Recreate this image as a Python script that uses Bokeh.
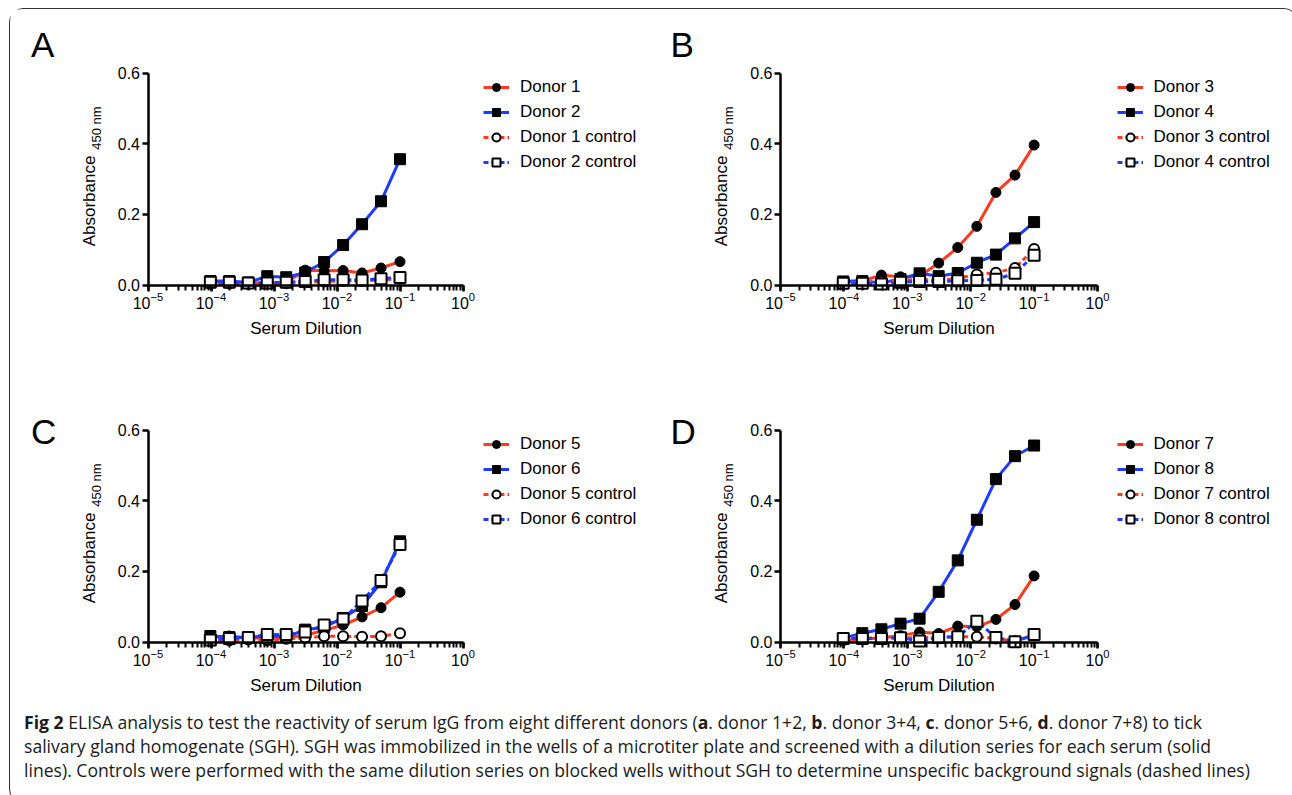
from bokeh.plotting import figure
from bokeh.models import Legend, LegendItem, Label, FixedTicker, LogTicker, NumeralTickFormatter, Div
from bokeh.layouts import column, row
from bokeh.embed import file_html
from bokeh.resources import INLINE

# Serum dilution series (two-fold, 1:10 down to 1:10240)
dilution = [9.765625e-5, 1.953125e-4, 3.90625e-4, 7.8125e-4, 1.5625e-3, 3.125e-3,
            6.25e-3, 1.25e-2, 2.5e-2, 5e-2, 1e-1]

# Panel A
donor_1 = [0.010, 0.008, 0.007, 0.005, 0.007, 0.042, 0.040, 0.041, 0.034, 0.048, 0.066]
donor_2 = [0.011, 0.011, 0.007, 0.025, 0.022, 0.035, 0.065, 0.113, 0.172, 0.237, 0.356]
donor_1_control = [0.004, 0.004, 0.003, 0.004, 0.005, 0.008, 0.010, 0.011, 0.012, 0.014, 0.018]
donor_2_control = [0.008, 0.008, 0.006, 0.006, 0.008, 0.010, 0.015, 0.015, 0.014, 0.018, 0.021]

# Panel B
donor_3 = [0.010, 0.012, 0.028, 0.023, 0.025, 0.062, 0.106, 0.166, 0.262, 0.311, 0.396]
donor_4 = [0.010, 0.011, 0.006, 0.017, 0.033, 0.025, 0.034, 0.063, 0.086, 0.132, 0.178]
donor_3_control = [0.006, 0.008, 0.010, 0.013, 0.016, 0.013, 0.019, 0.030, 0.035, 0.048, 0.102]
donor_4_control = [0.005, 0.005, 0.003, 0.008, 0.010, 0.010, 0.012, 0.013, 0.016, 0.033, 0.084]

# Panel C
donor_5 = [0.012, 0.017, 0.011, 0.012, 0.012, 0.019, 0.033, 0.048, 0.071, 0.097, 0.141]
donor_6 = [0.017, 0.014, 0.012, 0.019, 0.014, 0.035, 0.042, 0.068, 0.102, 0.169, 0.285]
donor_5_control = [0.003, 0.005, 0.007, 0.005, 0.009, 0.012, 0.016, 0.016, 0.015, 0.016, 0.025]
donor_6_control = [0.006, 0.010, 0.013, 0.021, 0.021, 0.028, 0.048, 0.065, 0.116, 0.174, 0.276]

# Panel D
donor_7 = [0.004, 0.008, 0.012, 0.018, 0.028, 0.024, 0.045, 0.043, 0.064, 0.106, 0.187]
donor_8 = [0.011, 0.025, 0.036, 0.052, 0.066, 0.142, 0.231, 0.346, 0.461, 0.526, 0.556]
donor_7_control = [0.010, 0.011, 0.011, 0.012, 0.012, 0.013, 0.015, 0.015, 0.010, 0.002, 0.021]
donor_8_control = [0.010, 0.010, 0.010, 0.012, 0.003, 0.013, 0.015, 0.059, 0.013, 0.001, 0.021]

y_ticks = [0.0, 0.2, 0.4, 0.6]
x_bounds = (1e-5, 1.0)
y_bounds = (0.0, 0.6)

RED = "#FF3B1F"
BLUE = "#1E3CFF"
FONT = "Liberation Sans"

STYLES = [
    (RED, "solid", "circle", "black"),
    (BLUE, "solid", "square", "black"),
    (RED, "5 3", "circle", "white"),
    (BLUE, "5 3", "square", "white"),
]


def make_panel(letter, names, series, width, height, axis_x, decade_px, y0_px, letter_dx, letter_dy, legend_dx):
    # layout: axis_x = pixel of the y axis from the figure's left, y0_px = pixel of y=0 from its bottom
    unit_px = 212.0 / 0.6
    lx0 = -5 - axis_x / decade_px
    lx1 = -5 + (width - axis_x) / decade_px
    p = figure(width=width, height=height, x_axis_type="log",
               x_range=(10 ** lx0, 10 ** lx1),
               y_range=(-y0_px / unit_px, (height - y0_px) / unit_px),
               output_backend="svg", toolbar_location=None,
               min_border_left=0, min_border_right=0, min_border_top=0, min_border_bottom=0)
    p.outline_line_color = None
    p.grid.visible = False
    p.background_fill_color = "white"
    p.border_fill_color = "white"

    items = []
    for name, ys, (col, dash, marker, fill) in zip(names, series, STYLES):
        ln = p.line(dilution, ys, line_color=col, line_width=3, line_dash=dash)
        sc = p.scatter(dilution, ys, marker=marker, size=10 if marker == "circle" else 11,
                       fill_color=fill, line_color="black", line_width=2 if fill == "white" else 1)
        items.append(LegendItem(label=name, renderers=[ln, sc]))

    legend = Legend(items=items, location=(axis_x + legend_dx, y0_px + 112.5), padding=0, margin=0,
                    border_line_color=None, background_fill_alpha=0,
                    glyph_width=26, glyph_height=20, label_height=20, spacing=5,
                    label_standoff=11, label_text_font=FONT, label_text_font_size="17px",
                    label_text_color="black")
    p.add_layout(legend)

    xa = p.xaxis[0]
    xa.fixed_location = 0
    xa.bounds = x_bounds
    xa.ticker = LogTicker(num_minor_ticks=10)
    xa.axis_label = "Serum Dilution"
    xa.axis_label_text_font = FONT
    xa.axis_label_text_font_size = "17px"
    xa.axis_label_text_font_style = "normal"
    xa.axis_label_text_color = "black"
    xa.axis_label_standoff = 6
    xa.major_label_standoff = 1

    ya = p.yaxis[0]
    ya.fixed_location = 1e-5
    ya.bounds = y_bounds
    ya.ticker = FixedTicker(ticks=y_ticks, minor_ticks=[])
    ya.formatter = NumeralTickFormatter(format="0.0")
    ya.major_label_standoff = 2

    for ax in (xa, ya):
        ax.axis_line_width = 2.5
        ax.axis_line_color = "black"
        ax.major_tick_line_width = 2.5
        ax.major_tick_line_color = "black"
        ax.major_tick_in = 0
        ax.major_tick_out = 6
        ax.minor_tick_line_width = 2
        ax.minor_tick_line_color = "black"
        ax.minor_tick_in = 0
        ax.minor_tick_out = 5
        ax.major_label_text_font = FONT
        ax.major_label_text_font_size = "16px"
        ax.major_label_text_color = "black"

    p.add_layout(Label(x=axis_x - 59, y=y0_px + 84, x_units="screen", y_units="screen", text="Absorbance",
                       angle=90, angle_units="deg", text_align="center", text_baseline="middle",
                       text_font=FONT, text_font_size="17px", text_color="black"))
    p.add_layout(Label(x=axis_x - 52, y=y0_px + 157, x_units="screen", y_units="screen", text="450 nm",
                       angle=90, angle_units="deg", text_align="center", text_baseline="middle",
                       text_font=FONT, text_font_size="13px", text_color="black"))
    p.add_layout(Label(x=axis_x + letter_dx, y=y0_px + letter_dy, x_units="screen", y_units="screen",
                       text=letter, text_align="left", text_baseline="middle",
                       text_font=FONT, text_font_size="35px", text_color="black"))
    return p


# page layout (content origin at about x=10.5, y=9.5)
W_LEFT, W_RIGHT = 638, 639
H_TOP, H_BOTTOM, H_CAPTION = 355, 336, 92

pA = make_panel("A", ["Donor 1", "Donor 2", "Donor 1 control", "Donor 2 control"],
                [donor_1, donor_2, donor_1_control, donor_2_control],
                W_LEFT, H_TOP, 137.5, 63.0, 79.5, -117, 241, 335.5)
pB = make_panel("B", ["Donor 3", "Donor 4", "Donor 3 control", "Donor 4 control"],
                [donor_3, donor_4, donor_3_control, donor_4_control],
                W_RIGHT, H_TOP, 132.0, 63.4, 79.5, -110, 241, 336.5)
pC = make_panel("C", ["Donor 5", "Donor 6", "Donor 5 control", "Donor 6 control"],
                [donor_5, donor_6, donor_5_control, donor_6_control],
                W_LEFT, H_BOTTOM, 137.5, 63.0, 58.5, -117, 211, 335.5)
pD = make_panel("D", ["Donor 7", "Donor 8", "Donor 7 control", "Donor 8 control"],
                [donor_7, donor_8, donor_7_control, donor_8_control],
                W_RIGHT, H_BOTTOM, 132.0, 63.4, 58.5, -110, 211, 336.5)

caption_html = (
    "<div style=\"font-family:'Open Sans'; font-size:17.6px; line-height:24px; color:#1a1a1a; "
    "white-space:nowrap; padding:5px 0 0 9px;\">"
    "<b>Fig 2</b> ELISA analysis to test the reactivity of serum IgG from eight different donors "
    "(<b>a</b>. donor 1+2, <b>b</b>. donor 3+4, <b>c</b>. donor 5+6, <b>d</b>. donor 7+8) to tick<br>"
    "salivary gland homogenate (SGH). SGH was immobilized in the wells of a microtiter plate and "
    "screened with a dilution series for each serum (solid<br>"
    "lines). Controls were performed with the same dilution series on blocked wells without SGH "
    "to determine unspecific background signals (dashed lines)"
    "</div>"
)
caption = Div(text=caption_html, width=W_LEFT + W_RIGHT, height=H_CAPTION)

layout = column(row(pA, pB), row(pC, pD), caption,
                styles={"border": "1.5px solid #333", "border-radius": "14px", "background": "white",
                        "margin-top": "8px", "margin-left": "9px"})

open("out.html", "w").write(file_html(layout, INLINE))
